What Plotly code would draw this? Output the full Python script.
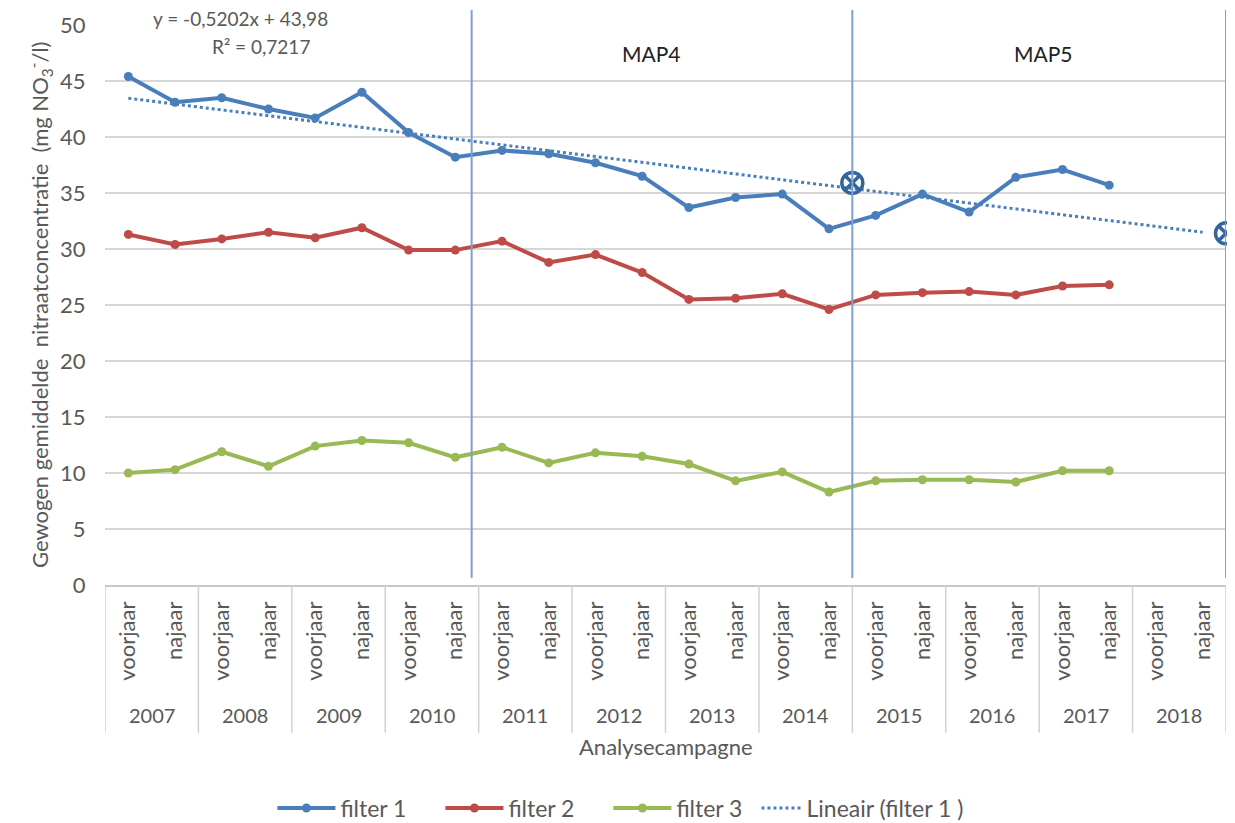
import plotly.graph_objects as go

years = ["2007", "2008", "2009", "2010", "2011", "2012", "2013", "2014", "2015", "2016", "2017", "2018"]
seasons = ["voorjaar", "najaar"]

filter1 = [45.4, 43.1, 43.5, 42.5, 41.7, 44.0, 40.4, 38.2, 38.8, 38.5, 37.7, 36.5,
           33.7, 34.6, 34.9, 31.8, 33.0, 34.9, 33.3, 36.4, 37.1, 35.7]
filter2 = [31.3, 30.4, 30.9, 31.5, 31.0, 31.9, 29.9, 29.9, 30.7, 28.8, 29.5, 27.9,
           25.5, 25.6, 26.0, 24.6, 25.9, 26.1, 26.2, 25.9, 26.7, 26.8]
filter3 = [10.0, 10.3, 11.9, 10.6, 12.4, 12.9, 12.7, 11.4, 12.3, 10.9, 11.8, 11.5,
           10.8, 9.3, 10.1, 8.3, 9.3, 9.4, 9.4, 9.2, 10.2, 10.2]

trend_values = [43.46, 31.5]          # linear trend of filter 1, first and last campaign
target_pos = [15.5, 23.5]             # end of MAP4 and MAP5 periods (category units)
target_values = [35.9, 31.4]
period_lines = [7.35, 15.5, 23.5]
period_labels = ["MAP4", "MAP5"]
period_label_pos = [11.2, 19.6]
equation = "y = -0,5202x + 43,98"
r_squared = "R² = 0,7217"

campaigns = [f"{s} {y}" for y in years for s in seasons]
xi = list(range(len(campaigns)))
xd = xi[:len(filter1)]

FONT = "Lato, 'Open Sans', sans-serif"
GREY = "#595959"

fig = go.Figure()
series = [("filter 1", filter1, "#4A7EBB"), ("filter 2", filter2, "#BE4B48"), ("filter 3", filter3, "#98B954")]
for name, vals, col in series:
    fig.add_trace(go.Scatter(x=xd, y=vals, name=name, mode="lines+markers", legend="legend",
                             line=dict(color=col, width=4), marker=dict(color=col, size=9)))

fig.add_trace(go.Scatter(x=[xi[0], xi[-1]], y=trend_values, name="Lineair (filter 1 )", mode="lines",
                         legend="legend2", line=dict(color="#4A7EBB", width=3, dash="dot")))

fig.add_trace(go.Scatter(x=target_pos, y=target_values, mode="markers", showlegend=False, cliponaxis=False,
                         marker=dict(symbol="circle-x-open", size=21, color="#33649C",
                                     line=dict(width=3.5, color="#33649C"))))

shapes = []
for p in period_lines:
    shapes.append(dict(type="line", xref="x", yref="paper", x0=p, x1=p, y0=0.0125, y1=1.027,
                       line=dict(color="#7F9FCE", width=2)))
for k in range(len(years) + 1):
    xv = -0.5 + 2 * k
    shapes.append(dict(type="line", xref="x", yref="paper", x0=xv, x1=xv, y0=0, y1=-0.264,
                       line=dict(color="#D0D0D0", width=1.5)))

annotations = []
for k, y in enumerate(years):
    annotations.append(dict(x=2 * k + 0.5, y=-0.232, xref="x", yref="paper", text=y, showarrow=False,
                            font=dict(size=20, color=GREY, family=FONT), yanchor="middle"))
annotations.append(dict(x=0.5, y=-0.2875, xref="paper", yref="paper", text="Analysecampagne",
                        showarrow=False, yanchor="middle", font=dict(size=22, color=GREY, family=FONT)))
annotations.append(dict(x=-0.074, y=0.5, xref="paper", yref="paper",
                        text="Gewogen gemiddelde  nitraatconcentratie  (mg NO<sub>3</sub><sup>-</sup>/l)",
                        textangle=-90, showarrow=False, font=dict(size=22, color=GREY, family=FONT)))
annotations.append(dict(x=2.4, y=1.0125, xref="x", yref="paper", text=equation, showarrow=False,
                        yanchor="middle", font=dict(size=19, color=GREY, family=FONT)))
annotations.append(dict(x=2.85, y=0.961, xref="x", yref="paper", text=r_squared, showarrow=False,
                        yanchor="middle", font=dict(size=19, color=GREY, family=FONT)))
for lab, pos in zip(period_labels, period_label_pos):
    annotations.append(dict(x=pos, y=0.95, xref="x", yref="paper", text=lab, showarrow=False,
                            yanchor="middle", font=dict(size=21, color="#222222", family=FONT)))

fig.update_layout(
    width=1227, height=815,
    margin=dict(l=97, r=9, t=17, b=238, autoexpand=False),
    plot_bgcolor="white", paper_bgcolor="white",
    font=dict(family=FONT, color=GREY),
    shapes=shapes, annotations=annotations,
    showlegend=True,
    legend=dict(orientation="h", xref="container", x=0.2155, xanchor="left",
                yref="container", y=0.0184, yanchor="middle", itemwidth=58,
                entrywidth=95, font=dict(size=23, color=GREY, family=FONT)),
    legend2=dict(orientation="h", xref="container", x=0.610, xanchor="left",
                 yref="container", y=0.0184, yanchor="middle", itemwidth=40,
                 font=dict(size=23, color=GREY, family=FONT)),
)
fig.update_xaxes(range=[-0.5, 23.5], tickmode="array", tickvals=xi,
                 ticktext=[c.split(" ")[0] for c in campaigns], tickangle=-90,
                 tickfont=dict(size=22, color=GREY, family=FONT),
                 ticks="outside", ticklen=6, tickcolor="rgba(0,0,0,0)",
                 showgrid=False, showline=True, linecolor="#C8C8C8", linewidth=1.5, zeroline=False)
fig.update_yaxes(range=[0, 50], dtick=5, showgrid=True, gridcolor="#D6D6D6", gridwidth=1.5,
                 tickfont=dict(size=22, color=GREY, family=FONT), zeroline=False, showline=False,
                 ticks="outside", ticklen=14, tickcolor="rgba(0,0,0,0)")

fig.write_html("out.html")
